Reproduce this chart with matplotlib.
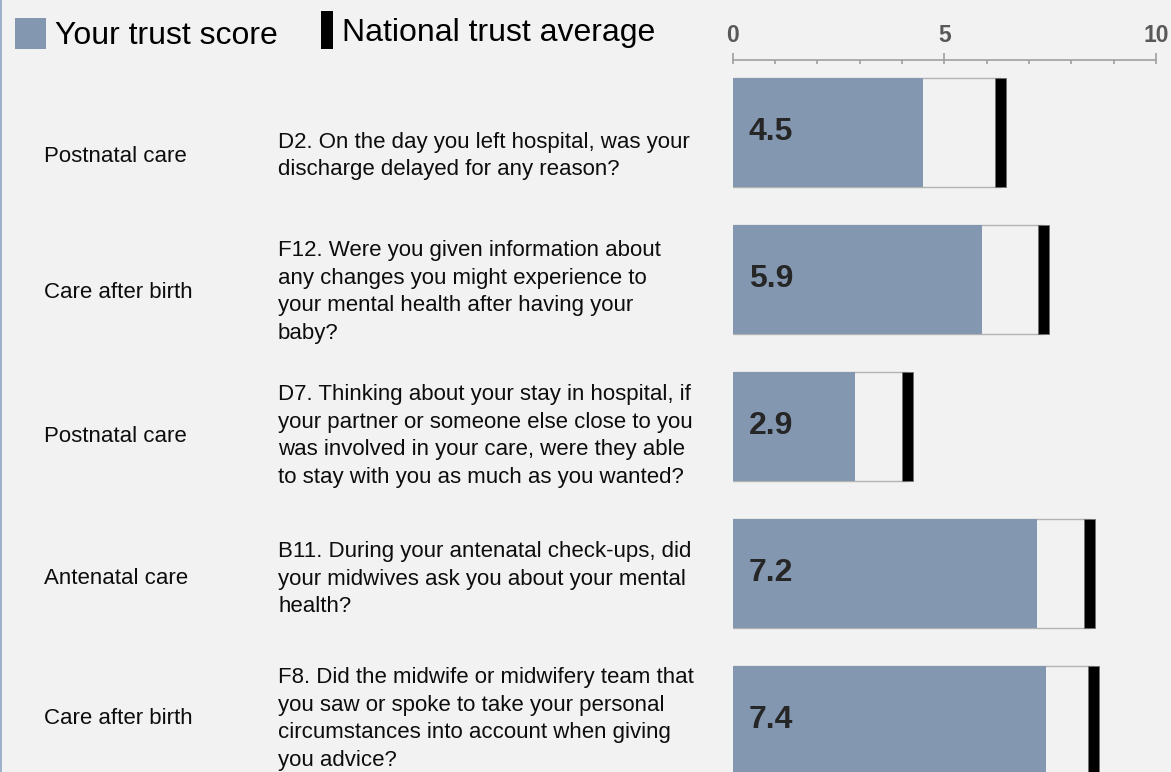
import matplotlib
matplotlib.use("Agg")
import matplotlib.pyplot as plt
from matplotlib.patches import Rectangle
from matplotlib.lines import Line2D
from matplotlib.ticker import MultipleLocator, FixedLocator

plt.rcParams['font.family'] = ['Liberation Sans', 'DejaVu Sans']

# ---------------- data ----------------
sections = ["Postnatal care", "Care after birth", "Postnatal care",
            "Antenatal care", "Care after birth"]
questions = [
    "D2. On the day you left hospital, was your\ndischarge delayed for any reason?",
    "F12. Were you given information about\nany changes you might experience to\nyour mental health after having your\nbaby?",
    "D7. Thinking about your stay in hospital, if\nyour partner or someone else close to you\nwas involved in your care, were they able\nto stay with you as much as you wanted?",
    "B11. During your antenatal check-ups, did\nyour midwives ask you about your mental\nhealth?",
    "F8. Did the midwife or midwifery team that\nyou saw or spoke to take your personal\ncircumstances into account when giving\nyou advice?",
]
trust_scores = [4.5, 5.9, 2.9, 7.2, 7.4]
national_avg = [6.33, 7.35, 4.14, 8.44, 8.53]
tick_values = [0, 5, 10]
tick_labels = ["0", "5", "10"]
legend_labels = ["Your trust score", "National trust average"]

# ---------------- style ----------------
W, H = 1171, 772
BG = "#f2f2f2"
BLUE = "#8497b0"
fig = plt.figure(figsize=(W / 100, H / 100), dpi=100, facecolor=BG)

def fx(px):
    return px / W

def fy(py):
    return 1 - py / H

# bar axes
x0_px, x10_px, axis_px = 732.7, 1156.0, 60.0
ax = fig.add_axes([fx(x0_px), 0, fx(x10_px - x0_px), 1 - axis_px / H])
ax.set_facecolor("none")
row0_px, row_step, bar_px = 132.5, 147.0, 109.0
ax.set_xlim(0, 10)
ax.set_ylim((H - row0_px) / row_step, (axis_px - row0_px) / row_step)
bh = bar_px / row_step
rows = list(range(len(trust_scores)))
marker_w = 0.26

ax.barh(rows, national_avg, height=bh, color=BG, edgecolor="#b3b3b3",
        linewidth=1.0, zorder=2)
ax.barh(rows, trust_scores, height=bh, color=BLUE, edgecolor="none", zorder=3)
ax.barh(rows, [marker_w] * len(rows),
        left=[v - marker_w / 2 for v in national_avg],
        height=bh, color="black", edgecolor="#707070", linewidth=0.6, zorder=4)
for r, v in zip(rows, trust_scores):
    ax.annotate(f"{v:.1f}", xy=(0, r), xytext=(11.5, 0), textcoords="offset points",
                ha="left", va="center", fontsize=23, fontweight="bold",
                color="#262626", zorder=5)

for s in ["left", "right", "bottom"]:
    ax.spines[s].set_visible(False)
ax.spines["top"].set_color("#a0a0a0")
ax.spines["top"].set_linewidth(1.2)
ax.set_yticks([])
ax.xaxis.set_ticks_position("top")
ax.xaxis.set_label_position("top")
ax.xaxis.set_major_locator(FixedLocator(tick_values))
ax.set_xticklabels(tick_labels)
ax.xaxis.set_minor_locator(MultipleLocator(1))
ax.xaxis.remove_overlapping_locs = False
ax.tick_params(axis="x", which="major", direction="out", length=5.2, width=1.2,
               color="#a0a0a0", pad=4.5, labelsize=16.5, labelcolor="#595959",
               top=True, bottom=False)
ax.tick_params(axis="x", which="minor", direction="in", length=2.6, width=1.2,
               color="#a0a0a0", top=True, bottom=False)
for lbl in ax.get_xticklabels():
    lbl.set_fontweight("bold")

# row texts
text_y_px = [156, 292, 436, 579, 719]
for sec, q, ty in zip(sections, questions, text_y_px):
    fig.text(fx(44.5), fy(ty), sec, ha="left", va="center", fontsize=16,
             color="#0d0d0d")
    fig.text(fx(278), fy(ty), q, ha="left", va="center", fontsize=16,
             color="#0d0d0d", linespacing=1.4)

# legend
fig.add_artist(Rectangle((fx(15), fy(49)), fx(31), 31 / H, transform=fig.transFigure,
                         facecolor=BLUE, edgecolor="none"))
fig.text(fx(55), fy(43.5), legend_labels[0], ha="left", va="baseline",
         fontsize=23, color="black")
fig.add_artist(Rectangle((fx(321), fy(49)), fx(12), 38 / H, transform=fig.transFigure,
                         facecolor="black", edgecolor="none"))
fig.text(fx(342), fy(41), legend_labels[1], ha="left", va="baseline",
         fontsize=23, color="black")

# left border
fig.add_artist(Line2D([fx(0.5), fx(0.5)], [0, 1], transform=fig.transFigure,
                      color="#8fa4c2", linewidth=1.2))

fig.savefig("out.png", dpi=100, facecolor=BG)
